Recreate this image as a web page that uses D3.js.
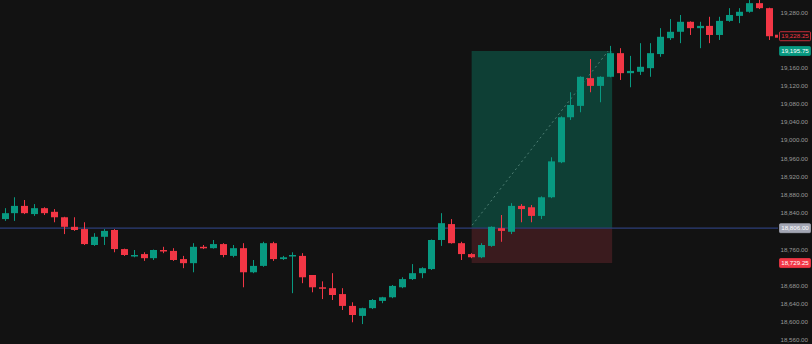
<!DOCTYPE html>
<html>
<head>
<meta charset="utf-8">
<script src="https://cdn.jsdelivr.net/npm/d3@7"></script>
<style>
  html, body { margin: 0; padding: 0; background: #121212; }
  svg { display: block; }
</style>
</head>
<body>
<div id="chart"></div>
<script>
// candle values (open, high, low, close)
const opens = [18826,18839,18855,18837,18850,18842,18830,18809,18804,18769,18787,18802,18760,18745,18749,18740,18758,18756,18738,18729,
  18765,18762,18771,18745,18762,18709,18723,18773,18738,18745,18745,18703,18676,18674,18661,18635,18613,18630,18646,18654,
  18676,18694,18707,18716,18780,18815,18773,18749,18742,18767,18806,18798,18855,18852,18833,18874,18951,19050,19075,19136,
  19119,19139,19191,19147,19150,19158,19189,19224,19238,19260,19246,19251,19231,19262,19273,19282,19301,19290];
const highs = [18850,18874,18868,18859,18852,18848,18831,18830,18819,18795,18804,18804,18761,18758,18753,18759,18765,18762,18745,18773,
  18769,18780,18773,18769,18773,18736,18776,18776,18745,18753,18751,18703,18689,18707,18674,18643,18631,18650,18655,18681,
  18698,18727,18720,18781,18839,18826,18776,18751,18773,18810,18835,18861,18859,18857,18876,18962,19052,19105,19140,19178,
  19140,19207,19202,19185,19213,19213,19246,19266,19275,19261,19260,19271,19271,19290,19290,19308,19308,19291];
const lows = [18822,18822,18837,18833,18835,18819,18793,18800,18769,18767,18769,18753,18745,18742,18734,18736,18751,18734,18718,18709,
  18760,18761,18742,18742,18676,18707,18721,18734,18736,18663,18685,18665,18650,18648,18626,18599,18595,18628,18641,18652,
  18674,18692,18696,18714,18767,18772,18736,18740,18740,18765,18776,18793,18819,18819,18826,18872,18949,19044,19061,19105,
  19083,19138,19132,19116,19143,19139,19183,19220,19213,19231,19202,19213,19220,19260,19257,19280,19288,19220];
const closes = [18839,18855,18839,18850,18839,18830,18809,18802,18771,18787,18800,18760,18747,18747,18740,18758,18756,18736,18729,18765,
  18762,18771,18747,18762,18709,18723,18773,18738,18742,18747,18698,18676,18674,18659,18635,18615,18630,18648,18654,18679,
  18694,18707,18718,18780,18817,18773,18749,18742,18769,18809,18800,18855,18848,18833,18874,18953,19050,19077,19139,19119,
  19139,19191,19147,19152,19161,19191,19227,19238,19260,19246,19251,19231,19262,19275,19282,19301,19290,19228.25];

// price axis ticks and position levels
const tickValues = [18560,18600,18640,18680,18720,18760,18800,18840,18880,18920,18960,19000,19040,19080,19120,19160,19200,19240,19280];
const entryPrice = 18806;
const targetPrice = 19195.75;
const stopPrice = 18729.25;
const lastPrice = 19228.25;
const entryIndex = 47;
const exitIndex = 61;

const data = opens.map((o, i) => ({ i, o, h: highs[i], l: lows[i], c: closes[i] }));

const W = 812, H = 344;
const up = "#089981", down = "#f23645";
const fmt = d3.format(",.2f");

const svg = d3.select("#chart").append("svg")
  .attr("width", W).attr("height", H)
  .style("background", "#121212");

const x = d3.scaleLinear().domain([0, data.length - 1]).range([4.5, 769]);
const y = d3.scaleLinear().domain([18560, 19280]).range([340, 12.7]);
const bodyW = 7;

// position tool boxes
const boxX0 = x(entryIndex) + 0.5, boxX1 = x(exitIndex) + 2;
svg.append("rect")
  .attr("x", boxX0).attr("y", y(targetPrice))
  .attr("width", boxX1 - boxX0).attr("height", y(entryPrice) - y(targetPrice))
  .attr("fill", "#0e3f35");
svg.append("rect")
  .attr("x", boxX0).attr("y", y(entryPrice))
  .attr("width", boxX1 - boxX0).attr("height", y(stopPrice) - y(entryPrice))
  .attr("fill", "#3a1b1e");

// entry line
svg.append("line")
  .attr("x1", 0).attr("x2", 778)
  .attr("y1", y(entryPrice)).attr("y2", y(entryPrice))
  .attr("stroke", "#2c3e78").attr("stroke-width", 1.3);

// dotted path from entry to target
svg.append("line")
  .attr("x1", x(entryIndex) + 1).attr("y1", y(entryPrice) - 3)
  .attr("x2", x(exitIndex) - 2).attr("y2", y(targetPrice))
  .attr("stroke", "#5f8f84").attr("stroke-width", 1)
  .attr("stroke-dasharray", "2,3").attr("opacity", 0.8);

// candles
const g = svg.append("g");
g.selectAll("line.wick").data(data).enter().append("line")
  .attr("class", "wick")
  .attr("x1", d => Math.round(x(d.i)) + 0.5).attr("x2", d => Math.round(x(d.i)) + 0.5)
  .attr("y1", d => y(d.h)).attr("y2", d => y(d.l))
  .attr("stroke", d => d.c >= d.o ? up : down).attr("stroke-width", 1);

g.selectAll("rect.body").data(data).enter().append("rect")
  .attr("class", "body")
  .attr("x", d => Math.round(x(d.i)) + 0.5 - bodyW / 2)
  .attr("y", d => y(Math.max(d.o, d.c)))
  .attr("width", bodyW)
  .attr("height", d => Math.max(1.5, Math.abs(y(d.o) - y(d.c))))
  .attr("fill", d => d.c >= d.o ? up : down);

// right price axis
const special = [lastPrice, targetPrice, entryPrice, stopPrice];
const shown = tickValues.filter(t => special.every(s => Math.abs(y(t) - y(s)) > 9));
const axis = d3.axisRight(y).tickValues(shown).tickSize(0).tickPadding(0)
  .tickFormat(fmt);
const ax = svg.append("g").attr("transform", "translate(808,0)").call(axis);
ax.select(".domain").remove();
ax.selectAll("text")
  .attr("text-anchor", "end")
  .attr("fill", "#9a9a9a")
  .style("font-family", "'Liberation Sans', Arial, sans-serif")
  .style("font-size", "6.2px");

// price labels
const labels = [
  { v: lastPrice, fill: "#121212", stroke: down, text: down },
  { v: targetPrice, fill: up, stroke: up, text: "#ffffff" },
  { v: entryPrice, fill: "#a3a6b4", stroke: "#a3a6b4", text: "#ffffff" },
  { v: stopPrice, fill: down, stroke: down, text: "#ffffff" }
];
const lab = svg.append("g").selectAll("g").data(labels).enter().append("g")
  .attr("transform", d => `translate(779,${y(d.v)})`);
lab.append("rect")
  .attr("x", 0.5).attr("y", -4.5).attr("width", 31).attr("height", 9)
  .attr("rx", 1)
  .attr("fill", d => d.fill).attr("stroke", d => d.stroke).attr("stroke-width", 0.8);
lab.append("text")
  .attr("x", 16).attr("y", 0).attr("dy", "0.35em")
  .attr("text-anchor", "middle")
  .attr("fill", d => d.text)
  .style("font-family", "'Liberation Sans', Arial, sans-serif")
  .style("font-size", "6.2px")
  .text(d => fmt(d.v));

// small marker next to last price
svg.append("rect")
  .attr("x", 775).attr("y", y(lastPrice) - 1.5)
  .attr("width", 3).attr("height", 3)
  .attr("fill", down);
</script>
</body>
</html>
